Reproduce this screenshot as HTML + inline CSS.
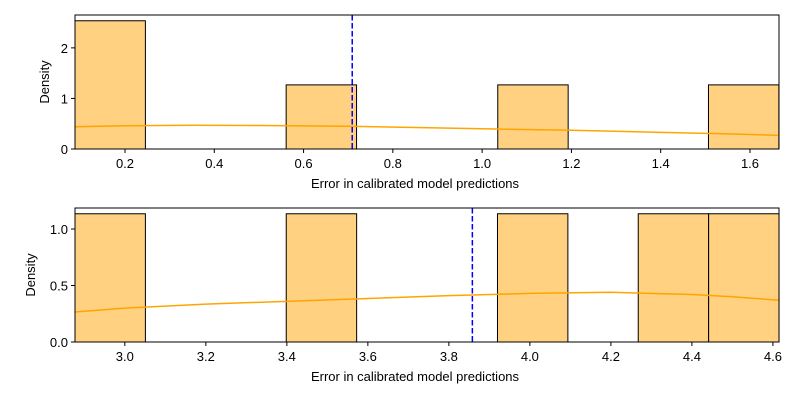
<!DOCTYPE html>
<html><head><meta charset="utf-8"><style>
body{margin:0;background:#fff;}
svg text{font-family:"Liberation Sans",sans-serif;font-size:13px;fill:#000;}
</style></head><body>
<svg width="800" height="400" id="chart"></svg>
<script>
// Panel 1 data
const p1BarStarts=[0.088,0.561,1.035,1.507];
const p1BarHeights=[2.536,1.268,1.268,1.268];
const p1BinWidth=0.1577;
const p1Mean=0.709;
const p1KdeX=[0.088,0.2,0.35,0.5,0.7,0.85,1.0,1.2,1.4,1.55,1.665];
const p1KdeY=[0.44,0.46,0.47,0.465,0.45,0.425,0.40,0.37,0.33,0.30,0.27];
const p1XTicks=[0.2,0.4,0.6,0.8,1.0,1.2,1.4,1.6];
const p1YTicks=[0,1,2];
// Panel 2 data
const p2BarStarts=[2.877,3.3985,3.92,4.2675,4.4413];
const p2BarHeights=[1.135,1.135,1.135,1.135,1.135];
const p2BinWidth=0.1738;
const p2Mean=3.858;
const p2KdeX=[2.877,3.0,3.2,3.4,3.6,3.8,4.0,4.2,4.4,4.5,4.615];
const p2KdeY=[0.265,0.30,0.335,0.36,0.385,0.41,0.43,0.44,0.42,0.40,0.37];
const p2XTicks=[3.0,3.2,3.4,3.6,3.8,4.0,4.2,4.4,4.6];
const p2YTicks=[0,0.5,1.0];

const NS="http://www.w3.org/2000/svg";
const svg=document.getElementById('chart');
function mk(tag,attrs,parent){const e=document.createElementNS(NS,tag);for(const k in attrs)e.setAttribute(k,attrs[k]);(parent||svg).appendChild(e);return e;}

function panel(cfg){
  const {L,R,T,B,xmin,xmax,ymin,ymax}=cfg;
  const g=mk('g',{});
  
  
  const X=v=>L+(v-xmin)/(xmax-xmin)*(R-L);
  const Y=v=>B-(v-ymin)/(ymax-ymin)*(B-T);
  cfg.starts.forEach((s,i)=>{
    const r=mk('rect',{x:X(s),y:Y(cfg.heights[i]),width:X(s+cfg.bw)-X(s),height:Y(0)-Y(cfg.heights[i]),fill:'#ffd180',stroke:'#000','stroke-width':1},g);
    
    
  });
  const d=cfg.kx.map((x,i)=>(i?'L':'M')+X(x)+','+Y(cfg.ky[i])).join(' ');
  const p=mk('path',{d:d,fill:'none',stroke:'orange','stroke-width':1.5},g);
  
  
  const m=mk('line',{x1:X(cfg.mean),x2:X(cfg.mean),y1:T,y2:B,stroke:'blue','stroke-width':1.5,'stroke-dasharray':'5.5,2.5'},g);
  
  
  const f=mk('rect',{x:L,y:T,width:R-L,height:B-T,fill:'none',stroke:'#000','stroke-width':1},g);
  
  
  cfg.xt.forEach(t=>{
    mk('line',{x1:X(t),x2:X(t),y1:B,y2:B+4,stroke:'#000'},g);
    const tx=mk('text',{x:X(t),y:B+19,'text-anchor':'middle'},g);
    tx.textContent=t.toFixed(1);
    
    
  });
  cfg.yt.forEach(t=>{
    mk('line',{x1:L-4,x2:L,y1:Y(t),y2:Y(t),stroke:'#000'},g);
    const tx=mk('text',{x:L-7,y:Y(t)+5,'text-anchor':'end'},g);
    tx.textContent=cfg.yfmt(t);
    
    
  });
  const xl=mk('text',{x:(L+R)/2-12,y:B+39,'text-anchor':'middle'},g);
  xl.textContent='Error in calibrated model predictions';
  
  
  const yl=mk('text',{x:0,y:0,'text-anchor':'middle',transform:`translate(${cfg.ylx},${(T+B)/2}) rotate(-90)`},g);
  yl.textContent='Density';
  
  
}
panel({name:'top-panel',L:75,R:779,T:15,B:149,xmin:0.088,xmax:1.665,ymin:0,ymax:2.65,starts:p1BarStarts,heights:p1BarHeights,bw:p1BinWidth,mean:p1Mean,kx:p1KdeX,ky:p1KdeY,xt:p1XTicks,yt:p1YTicks,yfmt:t=>String(t),ylx:49});
panel({name:'bottom-panel',L:75,R:779,T:208,B:342,xmin:2.877,xmax:4.615,ymin:0,ymax:1.186,starts:p2BarStarts,heights:p2BarHeights,bw:p2BinWidth,mean:p2Mean,kx:p2KdeX,ky:p2KdeY,xt:p2XTicks,yt:p2YTicks,yfmt:t=>t.toFixed(1),ylx:35});
</script>
</body></html>
